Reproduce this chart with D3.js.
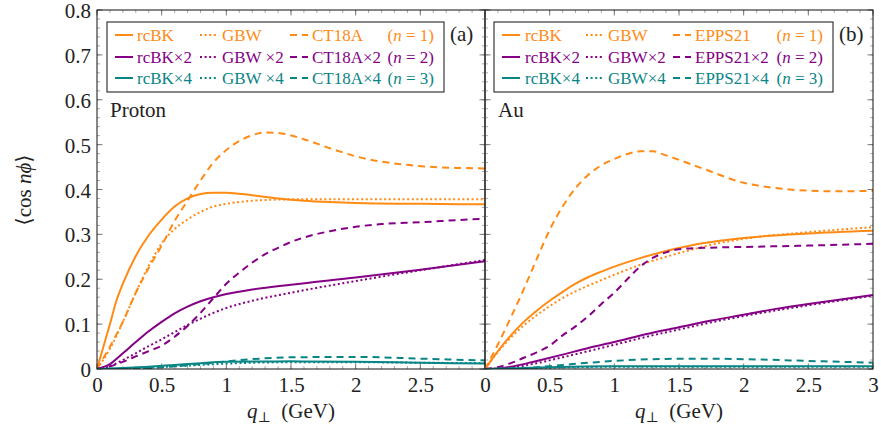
<!DOCTYPE html>
<html>
<head>
<meta charset="utf-8">
<script src="https://d3js.org/d3.v7.min.js"></script>
<style>
  html, body { margin: 0; background: #fff; }
  svg { display: block; }
  svg text { font-family: "Liberation Serif", "DejaVu Serif", serif; }
</style>
</head>
<body>
<svg width="881" height="439"></svg>
<script>
// ---- data: [q, <cos n phi>] ----
// panel (a) proton
const pRcBK1 = [[0,0],[0.05,0.05],[0.1,0.1],[0.15,0.152],[0.2,0.19],[0.3,0.252],[0.4,0.298],[0.5,0.333],[0.6,0.362],[0.7,0.38],[0.8,0.39],[0.9,0.393],[1.0,0.393],[1.2,0.387],[1.4,0.38],[1.6,0.375],[1.8,0.372],[2.0,0.37],[2.5,0.368],[3.0,0.367]];
const pGBW1  = [[0,0],[0.1,0.045],[0.2,0.105],[0.3,0.17],[0.4,0.23],[0.5,0.28],[0.6,0.312],[0.7,0.333],[0.8,0.35],[0.9,0.362],[1.0,0.368],[1.2,0.375],[1.5,0.378],[2.0,0.378],[3.0,0.378]];
const pCT1   = [[0,0],[0.1,0.05],[0.2,0.105],[0.3,0.17],[0.4,0.225],[0.5,0.275],[0.6,0.33],[0.7,0.375],[0.8,0.42],[0.9,0.46],[1.0,0.488],[1.1,0.508],[1.2,0.521],[1.3,0.527],[1.4,0.526],[1.6,0.512],[1.8,0.492],[2.0,0.474],[2.2,0.462],[2.4,0.455],[2.6,0.45],[2.8,0.448],[3.0,0.447]];
const pRcBK2 = [[0,0],[0.1,0.011],[0.2,0.035],[0.3,0.06],[0.4,0.084],[0.5,0.105],[0.6,0.124],[0.7,0.139],[0.8,0.151],[0.9,0.16],[1.0,0.167],[1.2,0.177],[1.5,0.188],[2.0,0.204],[2.5,0.221],[3.0,0.24]];
const pGBW2  = [[0,0],[0.1,0.006],[0.2,0.02],[0.3,0.035],[0.4,0.051],[0.5,0.066],[0.6,0.082],[0.7,0.098],[0.8,0.112],[0.9,0.125],[1.0,0.136],[1.2,0.152],[1.5,0.17],[2.0,0.196],[2.5,0.22],[3.0,0.243]];
const pCT2   = [[0,0],[0.1,0.006],[0.2,0.016],[0.3,0.028],[0.4,0.04],[0.5,0.052],[0.6,0.072],[0.7,0.096],[0.8,0.125],[0.9,0.158],[1.0,0.19],[1.1,0.215],[1.2,0.237],[1.3,0.256],[1.4,0.27],[1.5,0.283],[1.6,0.293],[1.8,0.307],[2.0,0.317],[2.2,0.323],[2.5,0.327],[2.8,0.332],[3.0,0.335]];
const pRcBK3 = [[0,0],[0.2,0.002],[0.4,0.005],[0.6,0.009],[0.8,0.013],[1.0,0.016],[1.5,0.017],[2.0,0.016],[2.5,0.014],[3.0,0.012]];
const pGBW3  = [[0,0],[0.2,0.001],[0.4,0.003],[0.6,0.006],[0.8,0.009],[1.0,0.012],[1.5,0.015],[2.0,0.015],[2.5,0.014],[3.0,0.013]];
const pCT3   = [[0,0],[0.2,0],[0.4,0.002],[0.6,0.006],[0.8,0.011],[1.0,0.017],[1.2,0.022],[1.5,0.026],[2.0,0.027],[2.5,0.023],[3.0,0.019]];

// panel (b) Au
const aRcBK1 = [[0,0],[0.1,0.04],[0.2,0.075],[0.3,0.105],[0.4,0.13],[0.5,0.152],[0.6,0.172],[0.7,0.19],[0.8,0.205],[0.9,0.217],[1.0,0.228],[1.2,0.247],[1.4,0.263],[1.6,0.276],[1.8,0.285],[2.0,0.292],[2.5,0.302],[3.0,0.308]];
const aGBW1  = [[0,0],[0.1,0.038],[0.2,0.07],[0.3,0.097],[0.4,0.12],[0.5,0.14],[0.6,0.158],[0.7,0.173],[0.8,0.186],[0.9,0.198],[1.0,0.21],[1.2,0.232],[1.4,0.25],[1.6,0.266],[1.8,0.28],[2.0,0.29],[2.5,0.305],[3.0,0.316]];
const aEP1   = [[0,0],[0.1,0.055],[0.2,0.115],[0.3,0.178],[0.4,0.245],[0.5,0.31],[0.6,0.362],[0.7,0.403],[0.8,0.433],[0.9,0.454],[1.0,0.468],[1.1,0.479],[1.2,0.485],[1.3,0.485],[1.4,0.476],[1.5,0.466],[1.7,0.445],[2.0,0.415],[2.2,0.405],[2.4,0.399],[2.7,0.396],[3.0,0.397]];
const aRcBK2 = [[0,0],[0.1,0.001],[0.2,0.005],[0.4,0.018],[0.6,0.032],[0.8,0.047],[1.0,0.06],[1.25,0.078],[1.5,0.093],[1.75,0.108],[2.0,0.121],[2.25,0.134],[2.5,0.145],[2.75,0.155],[3.0,0.165]];
const aGBW2  = [[0,0],[0.2,0.003],[0.4,0.013],[0.6,0.026],[0.8,0.04],[1.0,0.054],[1.25,0.072],[1.5,0.088],[1.75,0.104],[2.0,0.118],[2.5,0.142],[3.0,0.163]];
const aEP2   = [[0,0],[0.1,0.004],[0.2,0.013],[0.3,0.025],[0.4,0.037],[0.5,0.052],[0.6,0.075],[0.7,0.095],[0.8,0.118],[0.9,0.145],[1.0,0.17],[1.1,0.2],[1.2,0.228],[1.3,0.248],[1.4,0.26],[1.5,0.267],[1.7,0.27],[2.0,0.272],[2.5,0.275],[3.0,0.279]];
const aRcBK3 = [[0,0],[0.2,0.001],[0.5,0.004],[1.0,0.006],[2.0,0.006],[3.0,0.006]];
const aGBW3  = [[0,0],[0.2,0.001],[0.5,0.003],[1.0,0.005],[2.0,0.005],[3.0,0.005]];
const aEP3   = [[0,0],[0.2,0.001],[0.4,0.004],[0.6,0.009],[0.8,0.014],[1.0,0.018],[1.3,0.022],[1.6,0.023],[2.0,0.022],[2.5,0.018],[3.0,0.014]];

const xTicks = [0, 0.5, 1, 1.5, 2, 2.5, 3];
const yTicks = [0, 0.1, 0.2, 0.3, 0.4, 0.5, 0.6, 0.7, 0.8];
const protonLabels = ["rcBK", "GBW", "CT18A"];
const auLabels = ["rcBK", "GBW", "EPPS21"];
const rowSuffix = ["", "\u00d72", "\u00d74"];
const nValues = [1, 2, 3];

const colors = ["#ff8a14", "#850085", "#0a8585"];
const dashes = [null, "2,2.6", "7,5"];
const serif = "'Liberation Serif', 'DejaVu Serif', serif";

const svg = d3.select("svg");
const yTop = 10, yBot = 369;
const y = d3.scaleLinear().domain([0, 0.8]).range([yBot, yTop]);
const panels = [
  { x: d3.scaleLinear().domain([0, 3]).range([97, 485]), name: "Proton", tag: "(a)",
    series: [[pRcBK1, pGBW1, pCT1], [pRcBK2, pGBW2, pCT2], [pRcBK3, pGBW3, pCT3]],
    labels: protonLabels, legend: [107, 22, 444, 92], samples: [115, 200, 290], texts: [137, 222, 312], nEnd: 434,
    xLabels: xTicks.filter(d => d < 3), showY: true },
  { x: d3.scaleLinear().domain([0, 3]).range([485, 873]), name: "Au", tag: "(b)",
    series: [[aRcBK1, aGBW1, aEP1], [aRcBK2, aGBW2, aEP2], [aRcBK3, aGBW3, aEP3]],
    labels: auLabels, legend: [494, 22, 833, 92], samples: [502, 586, 673], texts: [525, 608, 695], nEnd: 823,
    xLabels: xTicks, showY: false }
];

panels.forEach(p => {
  const g = svg.append("g");
  const x = p.x;
  const [x0, x1] = x.range();

  // clip for curves
  const clipId = "clip" + p.tag.replace(/\W/g, "");
  svg.append("clipPath").attr("id", clipId).append("rect")
    .attr("x", x0).attr("y", yTop).attr("width", x1 - x0).attr("height", yBot - yTop);

  // ticks (inward, on all four sides)
  const minorX = d3.range(0, 3.0001, 0.1), minorY = d3.range(0, 0.8001, 0.02);
  const tickG = g.append("g").attr("stroke-width", 1);
  [[minorX, 3, "#aaa"], [xTicks, 5.5, "#7a7a7a"]].forEach(([vals, len, col]) => {
    tickG.selectAll(null).data(vals).join("line")
      .attr("x1", d => x(d)).attr("x2", d => x(d)).attr("y1", yBot).attr("y2", yBot - len).attr("stroke", col);
    tickG.selectAll(null).data(vals).join("line")
      .attr("x1", d => x(d)).attr("x2", d => x(d)).attr("y1", yTop).attr("y2", yTop + len).attr("stroke", col);
  });
  [[minorY, 3, "#aaa"], [yTicks, 5.5, "#7a7a7a"]].forEach(([vals, len, col]) => {
    tickG.selectAll(null).data(vals).join("line")
      .attr("x1", x0).attr("x2", x0 + len).attr("y1", d => y(d)).attr("y2", d => y(d)).attr("stroke", col);
    tickG.selectAll(null).data(vals).join("line")
      .attr("x1", x1).attr("x2", x1 - len).attr("y1", d => y(d)).attr("y2", d => y(d)).attr("stroke", col);
  });

  // tick labels through d3 axes
  const ax = g.append("g").attr("transform", `translate(0,${yBot})`)
    .call(d3.axisBottom(x).tickValues(p.xLabels).tickSize(0).tickPadding(8).tickFormat(d3.format("~g")));
  ax.select(".domain").remove();
  ax.attr("font-family", serif);
  ax.selectAll("text").attr("font-size", 21).attr("fill", "#222");
  if (p.showY) {
    const ay = g.append("g").attr("transform", `translate(${x0},0)`)
      .call(d3.axisLeft(y).tickValues(yTicks).tickSize(0).tickPadding(6).tickFormat(d3.format("~g")));
    ay.select(".domain").remove();
    ay.attr("font-family", serif);
    ay.selectAll("text").attr("font-size", 21).attr("fill", "#222").attr("dy", "0.36em");
  }

  // curves
  const line = d3.line().x(d => x(d[0])).y(d => y(d[1])).curve(d3.curveMonotoneX);
  const cg = g.append("g").attr("clip-path", `url(#${clipId})`);
  p.series.forEach((row, i) => {
    row.forEach((data, j) => {
      cg.append("path").datum(data).attr("d", line)
        .attr("fill", "none").attr("stroke", colors[i]).attr("stroke-width", 2)
        .attr("stroke-dasharray", dashes[j]);
    });
  });

  // frame
  g.append("rect").attr("x", x0).attr("y", yTop).attr("width", x1 - x0).attr("height", yBot - yTop)
    .attr("fill", "none").attr("stroke", "#111").attr("stroke-width", 1);

  // legend
  const [lx0, ly0, lx1, ly1] = p.legend;
  const lg = g.append("g").attr("font-family", serif);
  lg.append("rect").attr("x", lx0).attr("y", ly0).attr("width", lx1 - lx0).attr("height", ly1 - ly0)
    .attr("fill", "#fff").attr("stroke", "#111").attr("stroke-width", 1);
  const rowY = [35, 57, 78];
  rowSuffix.forEach((suf, i) => {
    p.labels.forEach((lab, j) => {
      lg.append("line").attr("x1", p.samples[j]).attr("x2", p.samples[j] + 18)
        .attr("y1", rowY[i]).attr("y2", rowY[i])
        .attr("stroke", colors[i]).attr("stroke-width", 2).attr("stroke-dasharray", dashes[j]);
      let txt = lab + suf;
      if (p.tag === "(a)" && j === 1 && i > 0) txt = lab + " " + suf;
      lg.append("text").attr("x", p.texts[j]).attr("y", rowY[i] + 5.5)
        .attr("font-size", 17).attr("fill", colors[i]).text(txt);
    });
    const t = lg.append("text").attr("x", p.nEnd).attr("y", rowY[i] + 5.5)
      .attr("text-anchor", "end").attr("font-size", 17).attr("fill", colors[i]);
    t.append("tspan").text("(");
    t.append("tspan").attr("font-style", "italic").text("n");
    t.append("tspan").text(" = " + nValues[i] + ")");
  });

  // panel tag and nucleus name
  g.append("text").attr("x", lx1 + 6).attr("y", 41).attr("font-family", serif)
    .attr("font-size", 21).attr("fill", "#222").text(p.tag);
  g.append("text").attr("x", x0 + 13).attr("y", 117).attr("font-family", serif)
    .attr("font-size", 21).attr("fill", "#222").text(p.name);

  // x axis title
  const xt = g.append("text").attr("x", (x0 + x1) / 2).attr("y", 418).attr("font-family", serif)
    .attr("text-anchor", "middle").attr("font-size", 21).attr("fill", "#222");
  xt.append("tspan").attr("font-style", "italic").text("q");
  xt.append("tspan").attr("font-size", 14).attr("dy", 4).text("\u22a5");
  xt.append("tspan").attr("dy", -4).text("\u2002(GeV)");
});

// y axis title
const yt = svg.append("text").attr("transform", "translate(31,190) rotate(-90)").attr("font-family", serif)
  .attr("text-anchor", "middle").attr("font-size", 21).attr("fill", "#222");
yt.append("tspan").text("\u27e8cos ");
yt.append("tspan").attr("font-style", "italic").text("n\u03d5");
yt.append("tspan").text("\u27e9");
</script>
</body>
</html>
